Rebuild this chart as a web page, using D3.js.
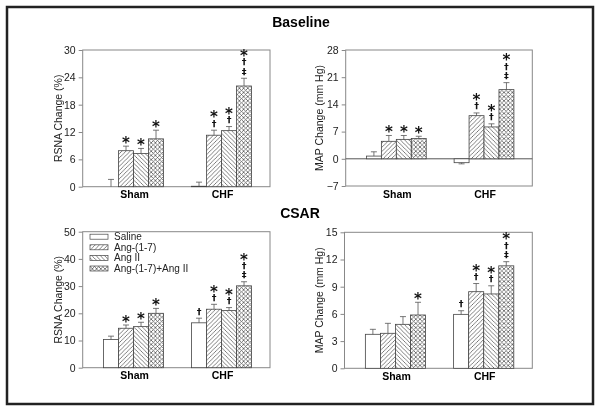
<!DOCTYPE html>
<html>
<head>
<meta charset="utf-8">
<script src="https://cdn.jsdelivr.net/npm/d3@7"></script>
<style>
  html, body { margin: 0; padding: 0; background: #fff; }
  svg { display: block; font-family: Arial, "Liberation Sans", sans-serif; will-change: transform; }
  .sym { font-family: "DejaVu Sans", sans-serif; }
</style>
</head>
<body>
<svg id="chart" width="602" height="413"></svg>
<script>
// ---------- data ----------
const groups = ["Sham", "CHF"];
const series = ["Saline", "Ang-(1-7)", "Ang II", "Ang-(1-7)+Ang II"];

// Baseline RSNA change (%)
const baseRsnaMean = [[0.0, 7.9, 7.3, 10.5], [0.1, 11.3, 12.3, 22.1]];
const baseRsnaSem  = [[1.6, 1.0, 1.1, 1.9], [0.9, 1.1, 0.9, 1.7]];
const baseRsnaSig  = [["", "*", "*", "*"], ["", "*†", "*†", "*†‡"]];
const baseRsnaTicks = [0, 6, 12, 18, 24, 30];

// Baseline MAP change (mm Hg)
const baseMapMean = [[0.7, 4.5, 5.0, 5.2], [-1.0, 11.1, 8.2, 17.8]];
const baseMapSem  = [[1.1, 1.5, 1.0, 0.6], [0.3, 0.7, 0.8, 1.8]];
const baseMapSig  = [["", "*", "*", "*"], ["", "*†", "*†", "*†‡"]];
const baseMapTicks = [-7, 0, 7, 14, 21, 28];

// CSAR RSNA change (%)
const csarRsnaMean = [[10.4, 14.5, 15.1, 20.0], [16.5, 21.5, 21.0, 30.1]];
const csarRsnaSem  = [[1.2, 1.2, 1.6, 1.8], [1.7, 1.8, 1.1, 1.5]];
const csarRsnaSig  = [["", "*", "*", "*"], ["†", "*†", "*†", "*†‡"]];
const csarRsnaTicks = [0, 10, 20, 30, 40, 50];

// CSAR MAP change (mm Hg)
const csarMapMean = [[3.75, 3.86, 4.85, 5.88], [5.95, 8.45, 8.2, 11.3]];
const csarMapSem  = [[0.55, 1.1, 0.85, 1.4], [0.4, 0.9, 0.9, 0.46]];
const csarMapSig  = [["", "", "", "*"], ["†", "*†", "*†", "*†‡"]];
const csarMapTicks = [0, 3, 6, 9, 12, 15];

const sectionTitles = ["Baseline", "CSAR"];
const yLabels = ["RSNA Change (%)", "MAP Change (mm Hg)"];

// ---------- drawing ----------
const svg = d3.select("#chart");

// patterns
const defs = svg.append("defs");
function hatch(id, angles) {
  const s = 4.2;
  const p = defs.append("pattern").attr("id", id)
    .attr("patternUnits", "userSpaceOnUse")
    .attr("width", s).attr("height", s);
  p.append("rect").attr("width", s).attr("height", s).attr("fill", "#fff");
  angles.forEach(a => {
    const d = a === 1
      ? `M-1,1 L1,-1 M0,${s} L${s},0 M${s - 1},${s + 1} L${s + 1},${s - 1}`
      : `M-1,${s - 1} L1,${s + 1} M0,0 L${s},${s} M${s - 1},-1 L${s + 1},1`;
    p.append("path").attr("d", d).attr("stroke", "#555").attr("stroke-width", 0.75);
  });
}
hatch("pSlash", [1]);
hatch("pBack", [2]);
hatch("pCross", [1, 2]);
const fills = ["#fff", "url(#pSlash)", "url(#pBack)", "url(#pCross)"];

// outer frame
svg.append("rect").attr("x", 7).attr("y", 7).attr("width", 586).attr("height", 397)
  .attr("fill", "none").attr("stroke", "#222").attr("stroke-width", 2.5);

// section titles
svg.append("text").attr("x", 301).attr("y", 26.5).attr("text-anchor", "middle")
  .attr("font-weight", "bold").attr("font-size", 14).text(sectionTitles[0]);
svg.append("text").attr("x", 300).attr("y", 217.5).attr("text-anchor", "middle")
  .attr("font-weight", "bold").attr("font-size", 14).text(sectionTitles[1]);

const panels = [
  { mean: baseRsnaMean, sem: baseRsnaSem, sig: baseRsnaSig, ticks: baseRsnaTicks, label: yLabels[0],
    l: 82.7, r: 270, t: 50, b: 186.7, labX: 58 },
  { mean: baseMapMean, sem: baseMapSem, sig: baseMapSig, ticks: baseMapTicks, label: yLabels[1],
    l: 345.7, r: 532.3, t: 50, b: 186, labX: 319 },
  { mean: csarRsnaMean, sem: csarRsnaSem, sig: csarRsnaSig, ticks: csarRsnaTicks, label: yLabels[0],
    l: 82.7, r: 270, t: 231.7, b: 367.7, labX: 58, legend: true },
  { mean: csarMapMean, sem: csarMapSem, sig: csarMapSig, ticks: csarMapTicks, label: yLabels[1],
    l: 344.5, r: 532.3, t: 232.3, b: 368.3, labX: 319 }
];

panels.forEach(P => {
  const g = svg.append("g");
  const y = d3.scaleLinear().domain(d3.extent(P.ticks)).range([P.b, P.t]);
  const x0 = d3.scaleBand().domain(groups).range([P.l, P.r])
    .paddingInner(0.318).paddingOuter(0.223).align(0.53);
  const x1 = d3.scaleBand().domain(series).range([0, x0.bandwidth()]).padding(0);

  // box
  g.append("rect").attr("x", P.l).attr("y", P.t).attr("width", P.r - P.l).attr("height", P.b - P.t)
    .attr("fill", "none").attr("stroke", "#888").attr("stroke-width", 1);

  // y axis
  const ax = g.append("g").attr("transform", `translate(${P.l},0)`)
    .call(d3.axisLeft(y).tickValues(P.ticks).tickSize(4).tickSizeOuter(0).tickPadding(3));
  ax.select(".domain").remove();
  ax.selectAll(".tick line").attr("stroke", "#888");
  ax.selectAll(".tick text").attr("font-size", 10.5).attr("fill", "#222")
    .attr("font-family", "Arial, 'Liberation Sans', sans-serif");

  // zero line
  if (y.domain()[0] < 0) {
    g.append("line").attr("x1", P.l).attr("x2", P.r).attr("y1", y(0)).attr("y2", y(0))
      .attr("stroke", "#555").attr("stroke-width", 1);
  }

  // y label
  g.append("text").attr("transform", `translate(${P.labX},${(P.t + P.b) / 2}) rotate(-90)`)
    .attr("text-anchor", "middle").attr("dy", "0.35em").attr("font-size", 10.5).attr("fill", "#222")
    .text(P.label);

  // category labels
  g.selectAll(".cat").data(groups).join("text")
    .attr("x", d => x0(d) + x0.bandwidth() / 2 + 1).attr("y", P.b + 8)
    .attr("text-anchor", "middle").attr("font-weight", "bold").attr("font-size", 10.5)
    .attr("dy", "0.35em").text(d => d);

  groups.forEach((grp, gi) => {
    series.forEach((s, si) => {
      const v = P.mean[gi][si], e = P.sem[gi][si];
      const bx = x0(grp) + x1(s), bw = x1.bandwidth();
      const cx = bx + bw / 2;
      // bar
      g.append("rect").attr("x", bx).attr("width", bw)
        .attr("y", Math.min(y(v), y(0))).attr("height", Math.abs(y(v) - y(0)))
        .attr("fill", fills[si]).attr("stroke", "#444").attr("stroke-width", 0.8);
      // error bar
      const ve = v >= 0 ? v + e : v - e;
      g.append("line").attr("x1", cx).attr("x2", cx).attr("y1", y(v)).attr("y2", y(ve))
        .attr("stroke", "#555").attr("stroke-width", 0.8);
      g.append("line").attr("x1", cx - 3).attr("x2", cx + 3).attr("y1", y(ve)).attr("y2", y(ve))
        .attr("stroke", "#555").attr("stroke-width", 0.8);
      // significance symbols, stacked in one text element (bottom to top)
      const sig = P.sig[gi][si];
      if (sig) {
        const top = Math.min(y(v), y(ve));
        const chars = Array.from(sig);
        const n = chars.length;
        const t = g.append("text").attr("class", "sym").attr("text-anchor", "middle")
          .attr("font-weight", "bold").attr("fill", "#111");
        chars.forEach((c, idx) => {
          const k = n - 1 - idx;            // position from the bottom
          const cy = top - 7 - k * 9.5;
          t.append("tspan").attr("x", cx)
            .attr("y", c === "*" ? cy + 8.8 : cy + 3.5)
            .attr("font-size", c === "*" ? 15 : 9.5)
            .text(c);
        });
      }
    });
  });

  // legend
  if (P.legend) {
    const lg = g.append("g");
    series.forEach((s, i) => {
      const ly = 236.7 + i * 10.6;
      lg.append("rect").attr("x", 90).attr("y", ly - 2.5).attr("width", 18).attr("height", 5)
        .attr("fill", fills[i]).attr("stroke", "#444").attr("stroke-width", 0.7);
      lg.append("text").attr("x", 114).attr("y", ly).attr("dy", "0.35em")
        .attr("font-size", 10).attr("fill", "#222").text(s);
    });
  }
});
</script>
</body>
</html>
